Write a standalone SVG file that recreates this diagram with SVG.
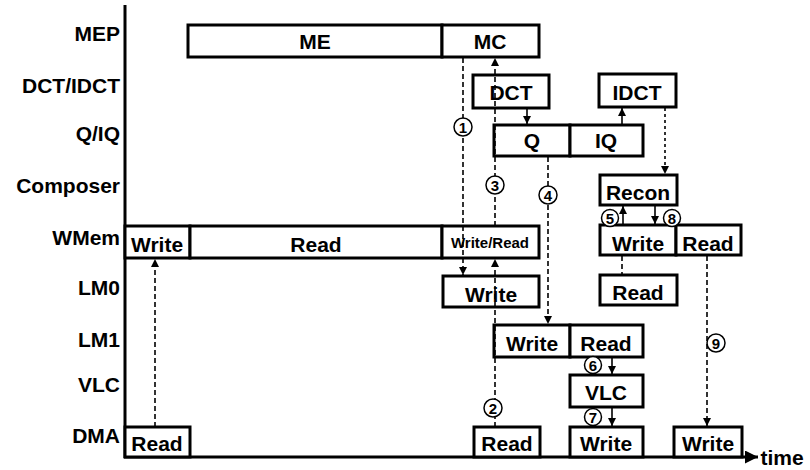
<svg xmlns="http://www.w3.org/2000/svg" width="810" height="470" viewBox="0 0 810 470">
<defs>
<style>
.lbl{font-family:"Liberation Sans",Arial,sans-serif;font-weight:bold;font-size:21px;fill:#000;text-anchor:end}
.t{font-family:"Liberation Sans",Arial,sans-serif;font-weight:bold;font-size:21px;fill:#000;text-anchor:middle}
.ts{font-family:"Liberation Sans",Arial,sans-serif;font-weight:bold;font-size:15px;fill:#000;text-anchor:middle}
.box{fill:#fff;stroke:#000;stroke-width:3}
.dash{stroke:#000;stroke-width:1.6;stroke-dasharray:5,3;fill:none}
.dot{stroke:#000;stroke-width:1.6;stroke-dasharray:3,3;fill:none}
.sol{stroke:#000;stroke-width:1.6;fill:none}
.axis{stroke:#000;stroke-width:3;fill:none}
.c{fill:#fff;stroke:#000;stroke-width:1.5}
.n{font-family:"Liberation Sans",Arial,sans-serif;font-weight:bold;font-size:15px;fill:#000;text-anchor:middle}
</style>
<marker id="ah" viewBox="0 0 8 8" refX="8" refY="4" markerWidth="8" markerHeight="8" markerUnits="userSpaceOnUse" orient="auto"><path d="M0,0 L8,4 L0,8 z" fill="#000"/></marker>
<marker id="ax" viewBox="0 0 12 12" refX="12" refY="6" markerWidth="13" markerHeight="13" markerUnits="userSpaceOnUse" orient="auto"><path d="M0,0 L12,6 L0,12 z" fill="#000"/></marker>
</defs>

<g id="axes">
<line class="axis" x1="125" y1="5" x2="125" y2="458"/>
<line class="axis" x1="124" y1="457" x2="758" y2="457" marker-end="url(#ax)"/>
<text class="t" x="782" y="465">time</text>
</g>

<g id="row-labels">
<text class="lbl" x="120" y="41">MEP</text>
<text class="lbl" x="120" y="93">DCT/IDCT</text>
<text class="lbl" x="120" y="141">Q/IQ</text>
<text class="lbl" x="120" y="193">Composer</text>
<text class="lbl" x="120" y="245">WMem</text>
<text class="lbl" x="120" y="295">LM0</text>
<text class="lbl" x="120" y="347">LM1</text>
<text class="lbl" x="120" y="392">VLC</text>
<text class="lbl" x="120" y="443">DMA</text>
</g>

<g id="mep-me"><rect class="box" x="188" y="25" width="254" height="32"/><text class="t" x="315" y="49">ME</text></g>
<g id="mep-mc"><rect class="box" x="442" y="25" width="97" height="32"/><text class="t" x="490" y="49">MC</text></g>
<g id="dct"><rect class="box" x="473" y="75" width="76" height="33"/><text class="t" x="511" y="100">DCT</text></g>
<g id="idct"><rect class="box" x="599" y="74" width="77" height="33"/><text class="t" x="637" y="100">IDCT</text></g>
<g id="q"><rect class="box" x="494" y="125" width="76" height="31"/><text class="t" x="532" y="148">Q</text></g>
<g id="iq"><rect class="box" x="570" y="125" width="73" height="31"/><text class="t" x="606" y="148">IQ</text></g>
<g id="recon"><rect class="box" x="600" y="175" width="77" height="30"/><text class="t" x="638" y="200">Recon</text></g>
<g id="wmem-write1"><rect class="box" x="125" y="226" width="65" height="32"/><text class="t" x="157" y="252">Write</text></g>
<g id="wmem-read1"><rect class="box" x="190" y="226" width="252" height="32"/><text class="t" x="316" y="252">Read</text></g>
<g id="wmem-wr"><rect class="box" x="442" y="226" width="97" height="32"/><text class="ts" x="490" y="248">Write/Read</text></g>
<g id="wmem-write2"><rect class="box" x="600" y="225" width="76" height="30"/><text class="t" x="638" y="251">Write</text></g>
<g id="wmem-read2"><rect class="box" x="676" y="225" width="65" height="30"/><text class="t" x="708" y="251">Read</text></g>
<g id="lm0-write"><rect class="box" x="443" y="276" width="96" height="31"/><text class="t" x="491" y="302">Write</text></g>
<g id="lm0-read"><rect class="box" x="600" y="275" width="77" height="30"/><text class="t" x="638" y="300">Read</text></g>
<g id="lm1-write"><rect class="box" x="494" y="325" width="76" height="32"/><text class="t" x="532" y="351">Write</text></g>
<g id="lm1-read"><rect class="box" x="570" y="325" width="73" height="32"/><text class="t" x="606" y="351">Read</text></g>
<g id="vlc"><rect class="box" x="570" y="375" width="73" height="32"/><text class="t" x="606" y="400">VLC</text></g>
<g id="dma-read1"><rect class="box" x="125" y="427" width="65" height="30"/><text class="t" x="157" y="451">Read</text></g>
<g id="dma-read2"><rect class="box" x="474" y="427" width="66" height="30"/><text class="t" x="507" y="451">Read</text></g>
<g id="dma-write1"><rect class="box" x="570" y="427" width="73" height="30"/><text class="t" x="606" y="451">Write</text></g>
<g id="dma-write2"><rect class="box" x="674" y="427" width="68" height="30"/><text class="t" x="708" y="451">Write</text></g>

<g id="connectors">
<line class="dash" x1="155" y1="427" x2="155" y2="259" marker-end="url(#ah)"/>
<line class="dash" x1="463" y1="58" x2="463" y2="275" marker-end="url(#ah)"/>
<line class="dash" x1="495" y1="427" x2="495" y2="259" marker-end="url(#ah)"/>
<line class="dash" x1="495" y1="226" x2="495" y2="58" marker-end="url(#ah)"/>
<line class="sol" x1="527" y1="109" x2="527" y2="124" marker-end="url(#ah)"/>
<line class="sol" x1="622" y1="124" x2="622" y2="108" marker-end="url(#ah)"/>
<line class="dot" x1="665" y1="108" x2="665" y2="174" marker-end="url(#ah)"/>
<line class="dash" x1="548" y1="157" x2="548" y2="324" marker-end="url(#ah)"/>
<line class="sol" x1="623" y1="224" x2="623" y2="206" marker-end="url(#ah)"/>
<line class="sol" x1="655" y1="206" x2="655" y2="224" marker-end="url(#ah)"/>
<line class="dash" x1="622" y1="256" x2="622" y2="275"/>
<line class="dash" x1="707" y1="256" x2="707" y2="426" marker-end="url(#ah)"/>
<line class="sol" x1="612" y1="358" x2="612" y2="374" marker-end="url(#ah)"/>
<line class="sol" x1="612" y1="408" x2="612" y2="426" marker-end="url(#ah)"/>
</g>

<g id="markers">
<circle class="c" cx="463" cy="127" r="9"/><text class="n" x="463" y="132.5">1</text>
<circle class="c" cx="493" cy="408" r="9"/><text class="n" x="493" y="413.5">2</text>
<circle class="c" cx="495" cy="185" r="9"/><text class="n" x="495" y="190.5">3</text>
<circle class="c" cx="548" cy="195" r="9"/><text class="n" x="548" y="200.5">4</text>
<circle class="c" cx="610" cy="218" r="8.5"/><text class="n" x="610" y="223.5">5</text>
<circle class="c" cx="593" cy="365" r="8.5"/><text class="n" x="593" y="370.5">6</text>
<circle class="c" cx="593" cy="417" r="8.5"/><text class="n" x="593" y="422.5">7</text>
<circle class="c" cx="672" cy="218" r="8.5"/><text class="n" x="672" y="223.5">8</text>
<circle class="c" cx="716" cy="343" r="9"/><text class="n" x="716" y="348.5">9</text>
</g>
</svg>
